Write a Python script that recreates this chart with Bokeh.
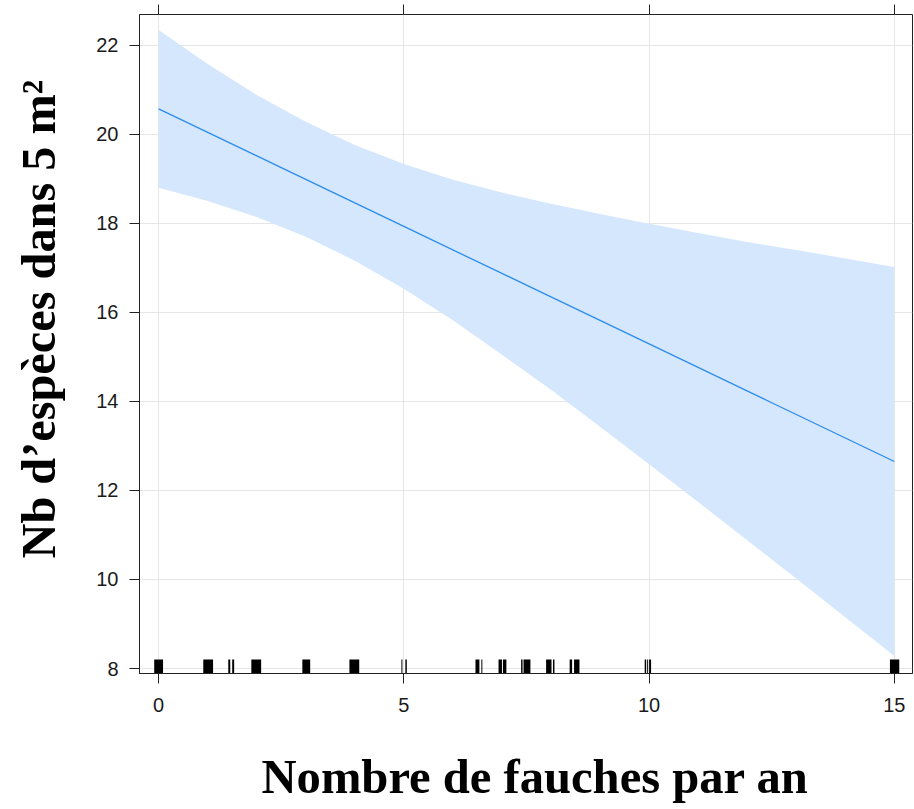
from bokeh.plotting import figure
from bokeh.models import Range1d, FixedTicker, LinearAxis, Title, ColumnDataSource
from bokeh.embed import file_html
from bokeh.resources import INLINE

# ---- data ----
x_fit = [0, 2.5, 5, 7.5, 10, 12.5, 15]
y_fit = [20.57, 19.25, 17.93, 16.61, 15.29, 13.97, 12.65]

band_x = [0, 1, 2, 3, 4, 5, 6, 7, 8, 9, 10, 11, 12, 13, 14, 15]
band_upper = [22.34, 21.58, 20.88, 20.28, 19.76, 19.33, 18.98, 18.69,
              18.44, 18.21, 17.99, 17.78, 17.58, 17.40, 17.21, 17.02]
band_lower = [18.80, 18.50, 18.14, 17.70, 17.16, 16.53, 15.82, 15.05,
              14.26, 13.43, 12.59, 11.74, 10.88, 10.02, 9.15, 8.28]

# rug (jittered observations): left/right edges of each stroke group
rug_left = [-0.09, 0.91, 1.42, 1.50, 1.89, 2.93, 3.89, 4.95, 5.03, 6.46, 6.58,
            6.93, 7.02, 7.39, 7.44, 7.90, 8.04, 8.38, 8.47, 9.91, 9.96, 10.0, 14.91]
rug_right = [0.09, 1.11, 1.46, 1.54, 2.09, 3.09, 4.09, 4.97, 5.06, 6.54, 6.60,
             7.00, 7.09, 7.42, 7.58, 8.01, 8.07, 8.43, 8.58, 9.94, 9.98, 10.04, 15.10]

x_ticks = [0, 5, 10, 15]
y_ticks = [8, 10, 12, 14, 16, 18, 20, 22]

x_title = "Nombre de fauches par an"
y_title = "Nb d\u2019esp\u00e8ces dans 5 m\u00b2"

X0, X1 = -0.39, 15.37
Y0, Y1 = 7.888, 22.69

p = figure(width=914, height=809, x_range=Range1d(X0, X1), y_range=Range1d(Y0, Y1),
           output_backend="svg", toolbar_location=None,
           min_border_left=139, min_border_right=2, min_border_top=14, min_border_bottom=136)
p.background_fill_color = "white"
p.border_fill_color = "white"
p.outline_line_color = "#222222"
p.outline_line_width = 1

for ax, ticks in ((p.xaxis[0], x_ticks), (p.yaxis[0], y_ticks)):
    ax.ticker = FixedTicker(ticks=ticks)
    ax.major_tick_in = 0
    ax.major_tick_out = 10
    ax.minor_tick_line_color = None
    ax.axis_line_color = "#222222"
    ax.major_tick_line_color = "#222222"
    ax.major_label_text_font = "Liberation Sans"
    ax.major_label_text_font_size = "20px"
    ax.major_label_text_color = "#1a1a1a"
p.xaxis[0].major_label_standoff = 14
p.yaxis[0].major_label_standoff = 11

top = LinearAxis(ticker=FixedTicker(ticks=x_ticks))
top.major_tick_in = 0
top.major_tick_out = 10
top.minor_tick_line_color = None
top.axis_line_color = None
top.major_tick_line_color = "#222222"
top.major_label_text_font_size = "1px"
top.major_label_text_alpha = 0
top.major_label_standoff = 0
p.add_layout(top, "above")


def spacer(size, tick):
    # invisible (white on white) axis that only reserves room in a side panel
    ax = LinearAxis(ticker=FixedTicker(ticks=[tick]))
    ax.major_tick_in = 0
    ax.major_tick_out = size
    ax.minor_tick_in = 0
    ax.minor_tick_out = 0
    ax.axis_line_color = None
    ax.major_tick_line_color = "white"
    ax.minor_tick_line_color = None
    ax.major_label_standoff = 0
    ax.major_label_overrides = {tick: ""}
    ax.major_label_text_font_size = "1px"
    ax.major_label_text_alpha = 0
    return ax


p.grid.grid_line_color = "#e6e6e6"
p.grid.grid_line_width = 1
p.xgrid.ticker = FixedTicker(ticks=x_ticks)
p.ygrid.ticker = FixedTicker(ticks=y_ticks)

p.varea(x=band_x, y1=band_lower, y2=band_upper, fill_color="#d5e7fc", fill_alpha=1)
p.line(x=x_fit, y=y_fit, line_color="#2b8cee", line_width=1.3)

rug_src = ColumnDataSource(dict(left=rug_left, right=rug_right,
                                bottom=[Y0] * len(rug_left), top=[8.2] * len(rug_left)))
p.quad(left="left", right="right", bottom="bottom", top="top", source=rug_src,
       fill_color="black", line_color=None)

p.add_layout(spacer(33, 7.5), "below")
xt = Title(text=x_title, align="left", offset=122, standoff=0, vertical_align="bottom",
           text_font="Liberation Serif", text_font_style="bold",
           text_font_size="48.6px", text_color="black")
p.add_layout(xt, "below")

p.add_layout(spacer(29, 15), "left")
yt = Title(text=y_title, align="left", offset=115, standoff=0, vertical_align="bottom",
           text_font="Liberation Serif", text_font_style="bold",
           text_font_size="48.3px", text_color="black")
p.add_layout(yt, "left")

open("out.html", "w").write(file_html(p, INLINE))
